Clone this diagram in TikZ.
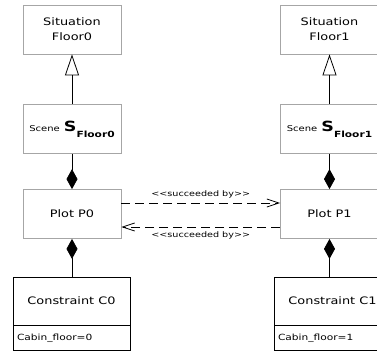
\documentclass[tikz,border=0pt]{standalone}
\usepackage{fontspec}
\newfontfamily\umlfont{DejaVu Sans}[FakeStretch=1.25]
\usetikzlibrary{arrows.meta}

\newcommand{\scenename}[1]{{\fontsize{8}{9}\selectfont Scene} {\fontsize{14}{16}\selectfont\bfseries S}\raisebox{-6pt}{\fontsize{8.5}{9}\selectfont\bfseries Floor#1}}

\begin{document}
\begin{tikzpicture}[x=1pt, y=-1pt,
	klasse/.style={draw=gray!70, fill=white, line width=0.8pt, minimum width=98pt, minimum height=49pt, inner sep=0pt, align=center, font=\umlfont\fontsize{10.3}{15}\selectfont},
	constraint/.style={draw=black, fill=white, line width=0.8pt, minimum width=117pt, minimum height=48pt, inner sep=0pt, font=\umlfont\fontsize{10.3}{12}\selectfont},
	attribut/.style={draw=black, fill=white, line width=0.8pt, text width=109pt, inner xsep=4pt, inner ysep=0pt, minimum height=25pt, align=left, font=\umlfont\fontsize{8.5}{10}\selectfont},
	vererbung/.style={line width=0.8pt, -{Triangle[open, length=21pt, width=14pt, fill=white]}},
	komposition/.style={line width=0.8pt, -{Diamond[length=20pt, width=11pt]}},
	folge/.style={line width=0.8pt, dash pattern=on 9pt off 5pt, -{Straight Barb[length=12pt, width=8pt]}},
	folgetext/.style={font=\umlfont\fontsize{7.7}{9}\selectfont, inner sep=1pt}
]

\useasboundingbox (0,0) rectangle (377,352);

%Situationen
\node[klasse] (sit0) at (72,29.5) {Situation\\Floor0};
\node[klasse] (sit1) at (329.5,29.5) {Situation\\Floor1};

%Szenen
\node[klasse] (scene0) at (72,129) {\scenename{0}};
\node[klasse] (scene1) at (329.5,129) {\scenename{1}};

%Plots
\node[klasse] (plot0) at (72,214) {Plot P0};
\node[klasse] (plot1) at (329.5,214) {Plot P1};

%Constraints mit Attributfeld
\node[constraint] (con0) at (71.5,301) {Constraint C0};
\node[attribut, anchor=north] (attr0) at (con0.south) {Cabin\_floor=0};
\node[constraint] (con1) at (332.5,301) {Constraint C1};
\node[attribut, anchor=north] (attr1) at (con1.south) {Cabin\_floor=1};

%Vererbung Szene -> Situation
\draw[vererbung] (scene0.north) -- (sit0.south);
\draw[vererbung] (scene1.north) -- (sit1.south);

%Komposition am Plot
\draw[komposition] (scene0.south) -- (plot0.north);
\draw[komposition] (plot0.south |- con0.north) -- (plot0.south);
\draw[komposition] (scene1.south) -- (plot1.north);
\draw[komposition] (plot1.south |- con1.north) -- (plot1.south);

%Nachfolger
\draw[folge] ([yshift=11pt]plot0.east) -- ([yshift=11pt]plot1.west) node[midway, above=3pt, folgetext] {<<succeeded by>>};
\draw[folge] ([yshift=-13pt]plot1.west) -- ([yshift=-13pt]plot0.east) node[midway, below=3pt, folgetext] {<<succeeded by>>};

\end{tikzpicture}
\end{document}
